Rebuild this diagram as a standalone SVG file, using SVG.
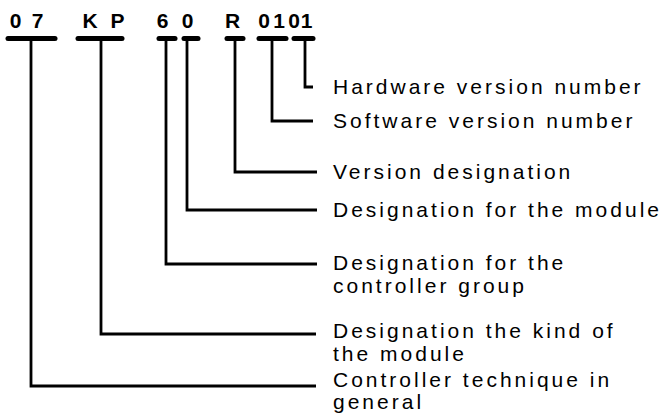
<svg xmlns="http://www.w3.org/2000/svg" width="669" height="415" viewBox="0 0 669 415">
<style>
.code{font-family:"Liberation Sans",Arial,sans-serif;font-weight:bold;font-size:21px;fill:#000;text-anchor:middle}
.lbl{font-family:"Liberation Sans",Arial,sans-serif;font-size:21px;letter-spacing:3px;fill:#000}
.bar{stroke:#000;stroke-width:5;stroke-linecap:round;fill:none}
.ln{stroke:#000;stroke-width:2.8;fill:none;stroke-linejoin:miter}
</style>
<rect width="669" height="415" fill="#fff"/>
<g id="code">
<text class="code" x="15.5" y="28">0</text>
<text class="code" x="37.5" y="28">7</text>
<text class="code" x="90" y="28">K</text>
<text class="code" x="117.5" y="28">P</text>
<text class="code" x="162.5" y="28">6</text>
<text class="code" x="187.5" y="28">0</text>
<text class="code" x="232.5" y="28">R</text>
<text class="code" x="264" y="28">0</text>
<text class="code" x="279" y="28">1</text>
<text class="code" x="294" y="28">0</text>
<text class="code" x="306.5" y="28">1</text>
</g>
<g id="bars">
<line class="bar" x1="8" y1="38.5" x2="55" y2="38.5"/>
<line class="bar" x1="78" y1="38.5" x2="122" y2="38.5"/>
<line class="bar" x1="159" y1="38.5" x2="175" y2="38.5"/>
<line class="bar" x1="184" y1="38.5" x2="198" y2="38.5"/>
<line class="bar" x1="227" y1="38.5" x2="243" y2="38.5"/>
<line class="bar" x1="259" y1="38.5" x2="286" y2="38.5"/>
<line class="bar" x1="294" y1="38.5" x2="313" y2="38.5"/>
</g>
<g id="connectors">
<polyline class="ln" points="305,39 305,87 313,87"/>
<polyline class="ln" points="272,39 272,121 313,121"/>
<polyline class="ln" points="235,39 235,172 317,172"/>
<polyline class="ln" points="187,39 187,210 317,210"/>
<polyline class="ln" points="166,39 166,264 317,264"/>
<polyline class="ln" points="101,39 101,334 316,334"/>
<polyline class="ln" points="31,39 31,386 316,386"/>
</g>
<g id="hw"><text class="lbl" x="333" y="94">Hardware version number</text></g>
<g id="sw"><text class="lbl" x="333" y="128">Software version number</text></g>
<g id="ver"><text class="lbl" x="333" y="179">Version designation</text></g>
<g id="mod"><text class="lbl" x="333" y="217">Designation for the module</text></g>
<g id="grp"><text class="lbl" x="333" y="270">Designation for the</text><text class="lbl" x="333" y="293">controller group</text></g>
<g id="kind"><text class="lbl" x="333" y="338">Designation the kind of</text><text class="lbl" x="333" y="361">the module</text></g>
<g id="tech"><text class="lbl" x="333" y="387">Controller technique in</text><text class="lbl" x="333" y="409">general</text></g>
</svg>
